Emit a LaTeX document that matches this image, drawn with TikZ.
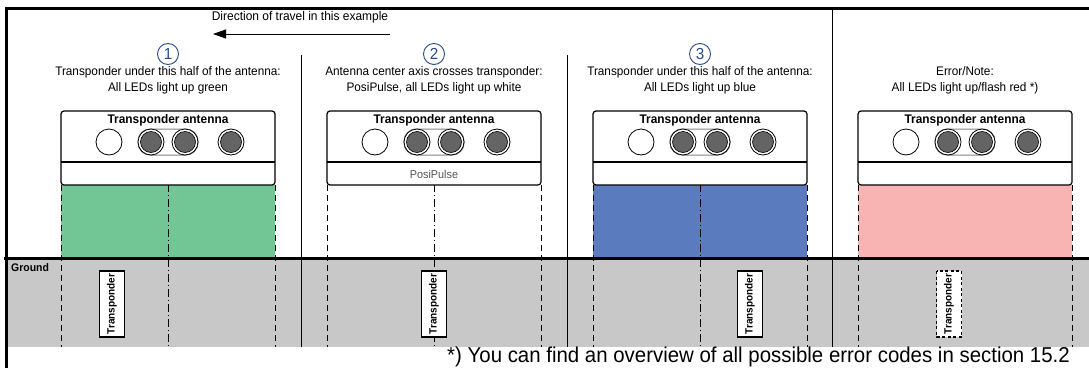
\documentclass[tikz,border=0pt]{standalone}
\usepackage{fontspec}
\setmainfont{Liberation Sans}[FakeStretch=0.95]
\usetikzlibrary{arrows.meta}
\definecolor{ledgreen}{RGB}{114,197,149}
\definecolor{ledblue}{RGB}{91,123,191}
\definecolor{ledred}{RGB}{247,180,178}
\definecolor{groundgray}{RGB}{200,200,200}
\definecolor{numblue}{RGB}{40,75,135}
\definecolor{leddark}{RGB}{100,100,100}
\definecolor{pulsegray}{RGB}{85,85,85}
\tikzset{
  antbox/.style={draw, line width=1.2pt, rounded corners=3pt, fill=white},
  edgeline/.style={dash pattern=on 6pt off 4pt, line width=0.8pt},
  axisline/.style={dash pattern=on 8pt off 3pt on 1pt off 3pt, line width=0.8pt},
  sepline/.style={line width=0.8pt},
  tpbox/.style={draw, line width=1.6pt, fill=white, rotate=90, font=\bfseries\fontsize{10.5}{11}\selectfont, minimum width=66pt, minimum height=25pt, inner sep=1pt},
  numcirc/.style={circle, draw=numblue, line width=0.9pt, text=numblue, minimum size=21pt, inner sep=0pt, font=\fontsize{16}{16}\selectfont},
  desc/.style={align=center, font=\fontsize{12.4}{16}\selectfont},
  anttitle/.style={font=\bfseries\fontsize{12.5}{13}\selectfont},
  pics/antenna/.style={code={
    \draw[antbox] (-107,111) rectangle (107,185);
    \draw[line width=1.2pt] (-107,162) -- (107,162);
    \node[anttitle] at (0,120) {Transponder antenna};
    \draw[line width=1pt, draw=leddark!80, fill=white, rounded corners=12pt] (-30,129) rectangle (30,155);
    \draw[line width=0.8pt, fill=white] (-59,142) circle (13pt);
    \foreach \lx in {-17,17,63} {
      \draw[line width=0.8pt, fill=white] (\lx,142) circle (13pt);
      \draw[line width=0.6pt, fill=leddark] (\lx,142) circle (10.5pt);
    }
  }}
}
\begin{document}
\begin{tikzpicture}[x=1pt,y=-1pt]
\useasboundingbox (0,0) rectangle (1089,367);
\clip (0,0) rectangle (1089,367);
% coloured light fields
\fill[ledgreen] (61,185) rectangle (275,258);
\fill[ledblue] (593,185) rectangle (807,258);
\fill[ledred] (858,185) rectangle (1072,258);
% ground
\fill[groundgray] (6,258) rectangle (1095,347);
\node[anchor=north west, font=\bfseries\fontsize{11}{12}\selectfont, inner sep=0pt] (ground) at (11,263) {Ground};
% field edges
\foreach \cx in {168,434,700,965} {
  \draw[edgeline] (\cx-107,185) -- (\cx-107,347);
  \draw[edgeline] (\cx+107,185) -- (\cx+107,347);
}
\foreach \cx in {168,434,700} {
  \draw[axisline] (\cx,184) -- (\cx,347);
}
% separators
\draw[sepline] (301,55) -- (301,347);
\draw[sepline] (567,55) -- (567,347);
\draw[line width=1pt] (832,8) -- (832,347);
% ground line and frame
\draw[line width=3pt] (4,258.5) -- (1095,258.5);
\draw[line width=3pt] (6,372) -- (6,8) -- (1095,8);
% direction of travel
\node[font=\fontsize{12.6}{14}\selectfont] (dirtext) at (300,17) {Direction of travel in this example};
\coordinate (arrstart) at (390,34);
\coordinate (arrend) at (213,34);
\draw[line width=1pt, -{Triangle[length=13pt,width=9pt]}] (arrstart) -- (arrend);
% numbers
\node[numcirc] (n1) at (168,54) {1};
\node[numcirc] (n2) at (434,54) {2};
\node[numcirc] (n3) at (700,54) {3};
% descriptions
\node[desc] (d1) at (168,80) {Transponder under this half of the antenna:\\All LEDs light up green};
\node[desc] (d2) at (434,80) {Antenna center axis crosses transponder:\\PosiPulse, all LEDs light up white};
\node[desc] (d3) at (700,80) {Transponder under this half of the antenna:\\All LEDs light up blue};
\node[desc] (d4) at (965,80) {Error/Note:\\All LEDs light up/flash red *)};
% antennas
\pic at (168,0) {antenna};
\pic at (434,0) {antenna};
\pic at (700,0) {antenna};
\pic at (965,0) {antenna};
\node[text=pulsegray, font=\fontsize{11.4}{12}\selectfont] (pulse) at (434,174) {PosiPulse};
% transponders
\node[tpbox] (t1) at (112,304) {Transponder};
\node[tpbox] (t2) at (434,304) {Transponder};
\node[tpbox] (t3) at (750,304) {Transponder};
\node[tpbox, dash pattern=on 3pt off 2.5pt] (t4) at (949,304) {Transponder};
% footer
\node[anchor=base east, font=\fontsize{21.5}{24}\selectfont, inner sep=0pt] (foot) at (1070,362) {*) You can find an overview of all possible error codes in section 15.2};
\end{tikzpicture}
\end{document}
